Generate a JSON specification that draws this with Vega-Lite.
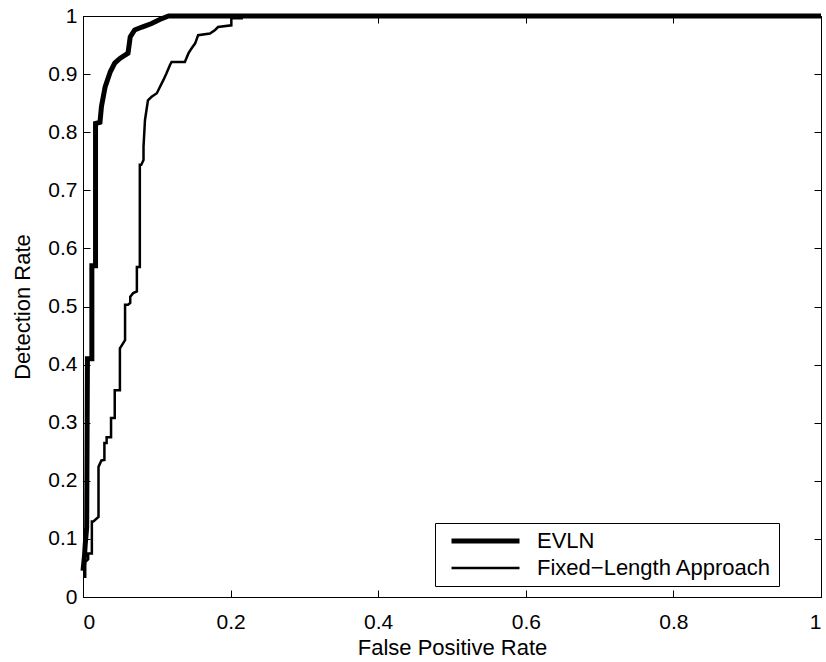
{
  "$schema": "https://vega.github.io/schema/vega-lite/v6.json",
  "width": 738,
  "height": 581,
  "autosize": {"type": "none"},
  "padding": {"left": 83, "top": 16, "right": 5, "bottom": 65},
  "background": "white",
  "config": {
    "view": {"stroke": "black", "strokeWidth": 1},
    "font": "Liberation Sans",
    "axis": {
      "grid": false,
      "domainColor": "black",
      "tickColor": "black",
      "labelColor": "black",
      "titleColor": "black",
      "labelFont": "Liberation Sans",
      "titleFont": "Liberation Sans",
      "labelFontSize": 21,
      "titleFontSize": 22,
      "titleFontWeight": "normal",
      "ticks": true,
      "tickSize": -7,
      "tickWidth": 1,
      "zindex": 1
    }
  },
  "data": {
    "values": [
      {"series": "EVLN", "order": 1, "fpr": 0.0, "tpr": 0.045},
      {"series": "EVLN", "order": 2, "fpr": 0.002, "tpr": 0.07},
      {"series": "EVLN", "order": 3, "fpr": 0.003, "tpr": 0.09},
      {"series": "EVLN", "order": 4, "fpr": 0.005, "tpr": 0.12},
      {"series": "EVLN", "order": 5, "fpr": 0.006, "tpr": 0.41},
      {"series": "EVLN", "order": 6, "fpr": 0.012, "tpr": 0.41},
      {"series": "EVLN", "order": 7, "fpr": 0.012, "tpr": 0.57},
      {"series": "EVLN", "order": 8, "fpr": 0.017, "tpr": 0.57},
      {"series": "EVLN", "order": 9, "fpr": 0.017, "tpr": 0.815},
      {"series": "EVLN", "order": 10, "fpr": 0.023, "tpr": 0.817},
      {"series": "EVLN", "order": 11, "fpr": 0.025, "tpr": 0.844},
      {"series": "EVLN", "order": 12, "fpr": 0.03, "tpr": 0.878},
      {"series": "EVLN", "order": 13, "fpr": 0.037, "tpr": 0.904},
      {"series": "EVLN", "order": 14, "fpr": 0.043, "tpr": 0.919},
      {"series": "EVLN", "order": 15, "fpr": 0.05, "tpr": 0.927},
      {"series": "EVLN", "order": 16, "fpr": 0.061, "tpr": 0.936},
      {"series": "EVLN", "order": 17, "fpr": 0.064, "tpr": 0.964},
      {"series": "EVLN", "order": 18, "fpr": 0.07, "tpr": 0.976},
      {"series": "EVLN", "order": 19, "fpr": 0.08, "tpr": 0.981},
      {"series": "EVLN", "order": 20, "fpr": 0.093, "tpr": 0.987},
      {"series": "EVLN", "order": 21, "fpr": 0.104, "tpr": 0.994},
      {"series": "EVLN", "order": 22, "fpr": 0.116, "tpr": 1.0},
      {"series": "EVLN", "order": 23, "fpr": 1.0, "tpr": 1.0},
      {"series": "Fixed−Length Approach", "order": 1, "fpr": 0.0, "tpr": 0.035},
      {"series": "Fixed−Length Approach", "order": 2, "fpr": 0.003, "tpr": 0.035},
      {"series": "Fixed−Length Approach", "order": 3, "fpr": 0.003, "tpr": 0.06},
      {"series": "Fixed−Length Approach", "order": 4, "fpr": 0.007, "tpr": 0.065},
      {"series": "Fixed−Length Approach", "order": 5, "fpr": 0.007, "tpr": 0.075},
      {"series": "Fixed−Length Approach", "order": 6, "fpr": 0.012, "tpr": 0.075},
      {"series": "Fixed−Length Approach", "order": 7, "fpr": 0.012, "tpr": 0.13},
      {"series": "Fixed−Length Approach", "order": 8, "fpr": 0.014, "tpr": 0.13},
      {"series": "Fixed−Length Approach", "order": 9, "fpr": 0.021, "tpr": 0.138},
      {"series": "Fixed−Length Approach", "order": 10, "fpr": 0.021, "tpr": 0.224},
      {"series": "Fixed−Length Approach", "order": 11, "fpr": 0.025, "tpr": 0.235},
      {"series": "Fixed−Length Approach", "order": 12, "fpr": 0.029, "tpr": 0.236},
      {"series": "Fixed−Length Approach", "order": 13, "fpr": 0.029, "tpr": 0.265},
      {"series": "Fixed−Length Approach", "order": 14, "fpr": 0.032, "tpr": 0.265},
      {"series": "Fixed−Length Approach", "order": 15, "fpr": 0.032, "tpr": 0.275},
      {"series": "Fixed−Length Approach", "order": 16, "fpr": 0.038, "tpr": 0.275},
      {"series": "Fixed−Length Approach", "order": 17, "fpr": 0.038, "tpr": 0.308},
      {"series": "Fixed−Length Approach", "order": 18, "fpr": 0.043, "tpr": 0.308},
      {"series": "Fixed−Length Approach", "order": 19, "fpr": 0.043, "tpr": 0.356},
      {"series": "Fixed−Length Approach", "order": 20, "fpr": 0.05, "tpr": 0.356},
      {"series": "Fixed−Length Approach", "order": 21, "fpr": 0.05, "tpr": 0.428},
      {"series": "Fixed−Length Approach", "order": 22, "fpr": 0.057, "tpr": 0.442},
      {"series": "Fixed−Length Approach", "order": 23, "fpr": 0.057, "tpr": 0.503},
      {"series": "Fixed−Length Approach", "order": 24, "fpr": 0.061, "tpr": 0.503},
      {"series": "Fixed−Length Approach", "order": 25, "fpr": 0.064, "tpr": 0.506},
      {"series": "Fixed−Length Approach", "order": 26, "fpr": 0.064, "tpr": 0.517},
      {"series": "Fixed−Length Approach", "order": 27, "fpr": 0.068, "tpr": 0.523},
      {"series": "Fixed−Length Approach", "order": 28, "fpr": 0.073, "tpr": 0.526},
      {"series": "Fixed−Length Approach", "order": 29, "fpr": 0.073, "tpr": 0.568},
      {"series": "Fixed−Length Approach", "order": 30, "fpr": 0.077, "tpr": 0.568},
      {"series": "Fixed−Length Approach", "order": 31, "fpr": 0.077, "tpr": 0.744},
      {"series": "Fixed−Length Approach", "order": 32, "fpr": 0.079, "tpr": 0.744},
      {"series": "Fixed−Length Approach", "order": 33, "fpr": 0.082, "tpr": 0.752},
      {"series": "Fixed−Length Approach", "order": 34, "fpr": 0.082, "tpr": 0.775},
      {"series": "Fixed−Length Approach", "order": 35, "fpr": 0.084, "tpr": 0.821},
      {"series": "Fixed−Length Approach", "order": 36, "fpr": 0.088, "tpr": 0.855},
      {"series": "Fixed−Length Approach", "order": 37, "fpr": 0.093, "tpr": 0.861},
      {"series": "Fixed−Length Approach", "order": 38, "fpr": 0.1, "tpr": 0.867},
      {"series": "Fixed−Length Approach", "order": 39, "fpr": 0.109, "tpr": 0.89},
      {"series": "Fixed−Length Approach", "order": 40, "fpr": 0.113, "tpr": 0.901},
      {"series": "Fixed−Length Approach", "order": 41, "fpr": 0.118, "tpr": 0.916},
      {"series": "Fixed−Length Approach", "order": 42, "fpr": 0.12, "tpr": 0.921},
      {"series": "Fixed−Length Approach", "order": 43, "fpr": 0.138, "tpr": 0.921},
      {"series": "Fixed−Length Approach", "order": 44, "fpr": 0.143, "tpr": 0.936},
      {"series": "Fixed−Length Approach", "order": 45, "fpr": 0.147, "tpr": 0.944},
      {"series": "Fixed−Length Approach", "order": 46, "fpr": 0.152, "tpr": 0.953},
      {"series": "Fixed−Length Approach", "order": 47, "fpr": 0.156, "tpr": 0.967},
      {"series": "Fixed−Length Approach", "order": 48, "fpr": 0.172, "tpr": 0.97},
      {"series": "Fixed−Length Approach", "order": 49, "fpr": 0.179, "tpr": 0.976},
      {"series": "Fixed−Length Approach", "order": 50, "fpr": 0.183, "tpr": 0.981},
      {"series": "Fixed−Length Approach", "order": 51, "fpr": 0.201, "tpr": 0.984},
      {"series": "Fixed−Length Approach", "order": 52, "fpr": 0.201, "tpr": 0.996},
      {"series": "Fixed−Length Approach", "order": 53, "fpr": 0.215, "tpr": 0.996},
      {"series": "Fixed−Length Approach", "order": 54, "fpr": 0.215, "tpr": 1.0},
      {"series": "Fixed−Length Approach", "order": 55, "fpr": 1.0, "tpr": 1.0}
    ]
  },
  "layer": [
    {
      "mark": {"type": "line", "color": "black", "strokeJoin": "miter", "strokeCap": "butt"},
      "encoding": {
        "x": {
          "field": "fpr", "type": "quantitative",
          "scale": {"domain": [0, 1], "nice": false, "zero": false},
          "axis": {"orient": "bottom", "values": [0, 0.2, 0.4, 0.6, 0.8, 1], "format": "~g", "title": "False Positive Rate", "labelPadding": 21, "titlePadding": 5}
        },
        "y": {
          "field": "tpr", "type": "quantitative",
          "scale": {"domain": [0, 1], "nice": false, "zero": false},
          "axis": {"orient": "left", "values": [0, 0.1, 0.2, 0.3, 0.4, 0.5, 0.6, 0.7, 0.8, 0.9, 1], "format": "~g", "title": "Detection Rate", "labelPadding": 13, "titlePadding": 13}
        },
        "order": {"field": "order", "type": "quantitative"},
        "detail": {"field": "series"},
        "strokeWidth": {
          "field": "series", "type": "nominal",
          "scale": {"domain": ["EVLN", "Fixed−Length Approach"], "range": [5, 2.5]},
          "legend": {
            "title": null,
            "orient": "none",
            "legendX": 352,
            "legendY": 507,
            "symbolType": "stroke",
            "symbolSize": 4624,
            "clipHeight": 22,
            "symbolOffset": 7,
            "symbolStrokeColor": "black",
            "labelFontSize": 22,
            "labelFont": "Liberation Sans",
            "labelColor": "black",
            "labelOffset": 15,
            "labelLimit": 400,
            "strokeColor": "black",
            "fillColor": "white",
            "padding": 7,
            "rowPadding": 5
          }
        }
      }
    },
    {
      "mark": {"type": "point", "opacity": 0},
      "encoding": {
        "x": {
          "field": "fpr", "type": "quantitative",
          "scale": {"domain": [0, 1], "nice": false, "zero": false},
          "axis": {"orient": "top", "values": [0, 0.2, 0.4, 0.6, 0.8, 1], "labels": false, "title": null}
        },
        "y": {
          "field": "tpr", "type": "quantitative",
          "scale": {"domain": [0, 1], "nice": false, "zero": false},
          "axis": {"orient": "right", "values": [0, 0.1, 0.2, 0.3, 0.4, 0.5, 0.6, 0.7, 0.8, 0.9, 1], "labels": false, "title": null}
        }
      }
    }
  ],
  "resolve": {"axis": {"x": "independent", "y": "independent"}}
}
